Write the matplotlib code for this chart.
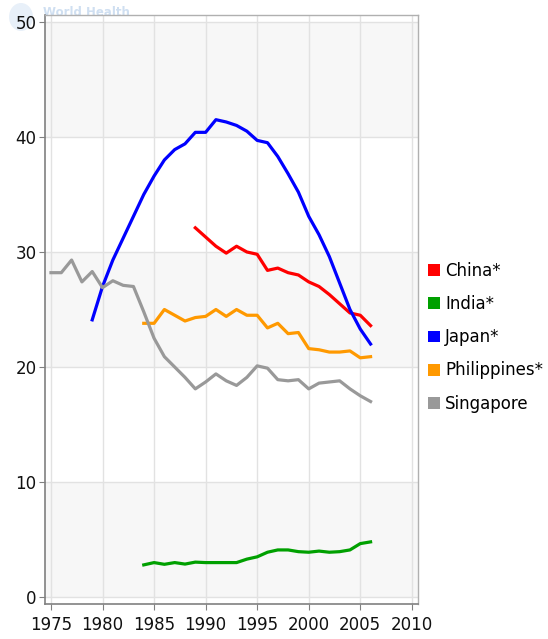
import matplotlib
matplotlib.use("Agg")
import matplotlib.pyplot as plt
from matplotlib.patches import Patch, Ellipse

plt.rcParams['font.family'] = ['DejaVu Sans']

years_singapore = list(range(1975, 2007))
singapore = [28.2, 28.2, 29.3, 27.4, 28.3, 26.9, 27.5, 27.1, 27.0, 24.8, 22.5, 20.9,
             20.0, 19.1, 18.1, 18.7, 19.4, 18.8, 18.4, 19.1, 20.1, 19.9, 18.9, 18.8,
             18.9, 18.1, 18.6, 18.7, 18.8, 18.1, 17.5, 17.0]

years_japan = list(range(1979, 2007))
japan = [24.1, 27.0, 29.3, 31.2, 33.1, 35.0, 36.6, 38.0, 38.9, 39.4, 40.4, 40.4,
         41.5, 41.3, 41.0, 40.5, 39.7, 39.5, 38.3, 36.8, 35.2, 33.1, 31.5, 29.6,
         27.3, 25.0, 23.3, 22.0]

years_china = list(range(1989, 2007))
china = [32.1, 31.3, 30.5, 29.9, 30.5, 30.0, 29.8, 28.4, 28.6, 28.2, 28.0, 27.4,
         27.0, 26.3, 25.5, 24.7, 24.5, 23.6]

years_philippines = list(range(1984, 2007))
philippines = [23.8, 23.8, 25.0, 24.5, 24.0, 24.3, 24.4, 25.0, 24.4, 25.0, 24.5, 24.5,
               23.4, 23.8, 22.9, 23.0, 21.6, 21.5, 21.3, 21.3, 21.4, 20.8, 20.9]

years_india = list(range(1984, 2007))
india = [2.8, 3.0, 2.85, 3.0, 2.87, 3.04, 3.0, 3.0, 3.0, 3.0, 3.3, 3.5, 3.9, 4.1,
         4.1, 3.95, 3.9, 4.0, 3.9, 3.95, 4.1, 4.65, 4.8]

series_names = ["China*", "India*", "Japan*", "Philippines*", "Singapore"]
series_colors = ["#ff0000", "#00a000", "#0000ff", "#ff9900", "#999999"]
series_years = [years_china, years_india, years_japan, years_philippines, years_singapore]
series_values = [china, india, japan, philippines, singapore]

x_ticks = [1975, 1980, 1985, 1990, 1995, 2000, 2005, 2010]
y_ticks = [0, 10, 20, 30, 40, 50]

FS = 12

fig = plt.figure(figsize=(5.48, 6.39), dpi=100)

# faint WHO watermark (behind everything)
fig.patches.append(Ellipse((21/548, 1 - 17/639), 24/548, 28/639, transform=fig.transFigure,
                           facecolor="#e8f0f9", edgecolor="none", zorder=-5))
fig.text(43/548, 1 - 12/639, "World Health", fontsize=8.5, color="#cfdff1",
         fontweight="bold", va="center", ha="left", zorder=-4)

ax = fig.add_axes([45/548, 1 - 604/639, (418-45)/548, (604-15)/639])
ax.patch.set_alpha(0)
ax.set_xlim(1974.42, 2010.6)
ax.set_ylim(-0.6, 50.6)

# alternating bands
for lo in [0, 20, 40]:
    ax.axhspan(lo, lo + 10, color="#f7f7f7", zorder=0, lw=0)

ax.set_xticks(x_ticks)
ax.set_yticks(y_ticks)
ax.grid(True, color="#e2e2e2", lw=1, zorder=1)
ax.set_axisbelow(True)

for yrs, vals, c in zip(series_years, series_values, series_colors):
    ax.plot(yrs, vals, color=c, lw=2.3, solid_joinstyle="round", zorder=3)

for s in ["top", "right"]:
    ax.spines[s].set_color("#b0b0b0")
    ax.spines[s].set_linewidth(1)
for s in ["left", "bottom"]:
    ax.spines[s].set_color("#808080")
    ax.spines[s].set_linewidth(1.2)

ax.tick_params(axis="both", direction="out", length=4, color="#808080",
               labelsize=FS, labelcolor="#111111", pad=2)
ax.tick_params(axis="x", pad=5)

handles = [Patch(facecolor=c, edgecolor="none") for c in series_colors]
leg = fig.legend(handles, series_names, loc="upper left",
                 bbox_to_anchor=(428/548, 1 - 262/639), frameon=False,
                 fontsize=FS, handlelength=0.72, handleheight=0.72,
                 handletextpad=0.3, labelspacing=0.91, borderaxespad=0,
                 borderpad=0)

fig.savefig("out.png", dpi=100)
